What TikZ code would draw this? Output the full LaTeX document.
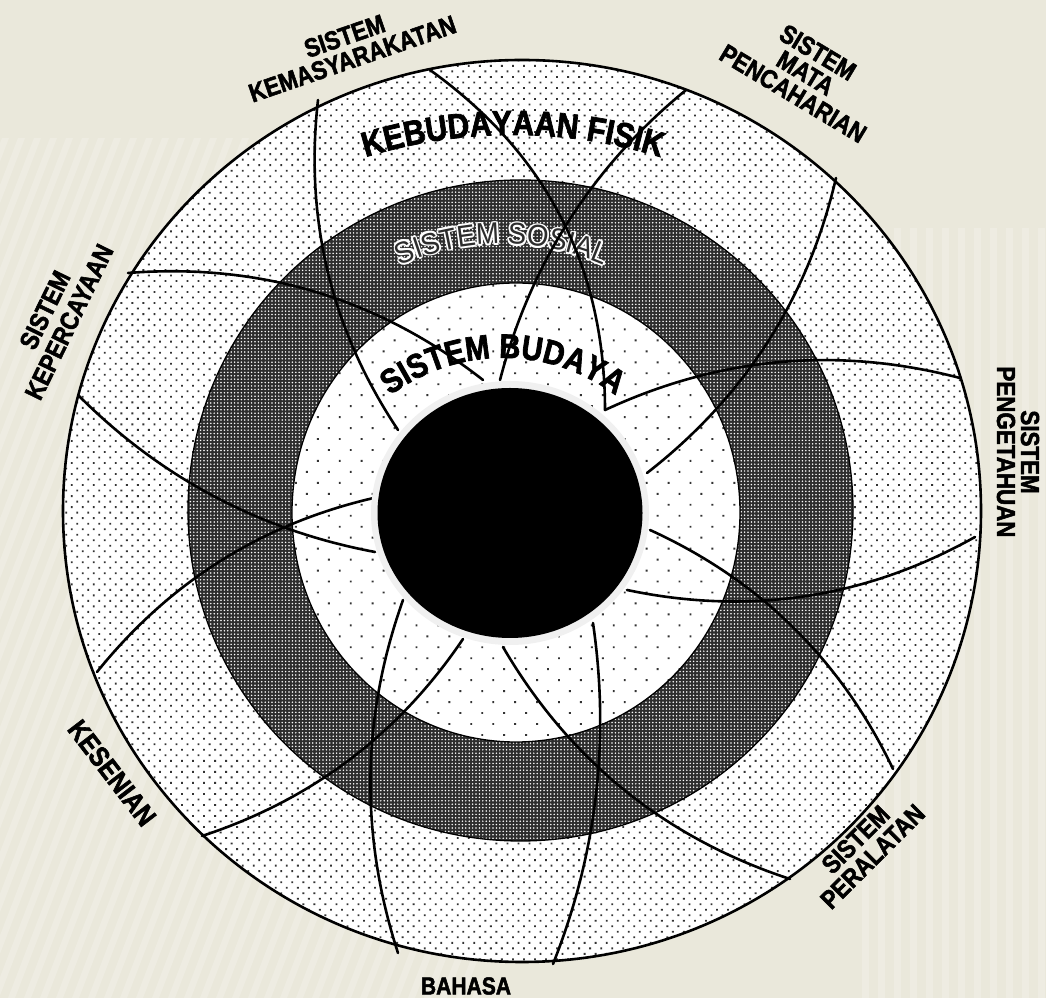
\documentclass[tikz,border=0pt]{standalone}
\usepackage{fontspec}
\setmainfont{Liberation Sans}
\newfontfamily\heavyfont[FakeStretch=0.86,FakeBold=2]{Liberation Sans Bold}
\newfontfamily\semifont[FakeStretch=0.92]{Liberation Sans}
\usetikzlibrary{patterns.meta,decorations.text,calc}
\definecolor{bg}{RGB}{234,232,219}
\definecolor{ringdark}{RGB}{45,45,45}
\newcommand\fontkeb{\heavyfont\fontsize{35}{35}\selectfont}
\newcommand\fontsos{\semifont\fontsize{30}{30}\selectfont}
\newcommand\fontbud{\heavyfont\fontsize{34}{34}\selectfont}
\newcommand\spokecurve[3]{\draw[spoke] (#1) .. controls ($(#1)!0.6667!(#2)$) and ($(#3)!0.6667!(#2)$) .. (#3);}
\begin{document}
\begin{tikzpicture}[x=1pt,y=1pt,
  spoke/.style={line width=2.6pt, line cap=round},
  lab/.style={font=\heavyfont\fontsize{26}{24}\selectfont, align=center, inner sep=0pt},
  outerdots/.style={pattern={Dots[distance=7.8pt,angle=45,radius=1.3pt]}, pattern color=black!80},
  innerdots/.style={pattern={Dots[distance=15.5pt,angle=45,radius=1.35pt]}, pattern color=black!80},
  darkdots/.style={pattern={Dots[distance=3.4pt,radius=0.85pt]}, pattern color=white},
  stripe/.style={white, opacity=0.2},
]
\fill[bg] (0,0) rectangle (1046,998);
\useasboundingbox (0,0) rectangle (1046,998);
% background stripes
\begin{scope}
  \clip (860,0) rectangle (1046,770);
  \foreach \x in {862,878,...,1046} { \fill[stripe] (\x,0) rectangle ++(7,770); }
\end{scope}
\begin{scope}
  \clip (0,0) rectangle (480,860);
  \foreach \x in {-600,-584,...,480} { \fill[stripe] (\x,0) -- ++(7,0) -- ++(330,860) -- ++(-7,0) -- cycle; }
\end{scope}
\coordinate (co) at (522,487);
\coordinate (cd) at (520.5,487.5);
\coordinate (ci) at (516,485.5);
\coordinate (cb) at (510,485);
\coordinate (kc) at (513,363);
\coordinate (bc) at (503,452);
% outer ring
\fill[white] (co) ellipse [x radius=459pt, y radius=451pt];
\fill[outerdots] (co) ellipse [x radius=459pt, y radius=451pt];
% dark ring
\fill[ringdark] (cd) ellipse [x radius=332.5pt, y radius=330.5pt];
\fill[darkdots] (cd) ellipse [x radius=332.5pt, y radius=330.5pt];
\draw[line width=1.3pt] (cd) ellipse [x radius=332.5pt, y radius=330.5pt];
% inner ring
\fill[white] (ci) ellipse [x radius=224pt, y radius=229.5pt];
\fill[innerdots] (ci) ellipse [x radius=224pt, y radius=229.5pt];
\draw[line width=1.3pt] (ci) ellipse [x radius=224pt, y radius=229.5pt];
% curved texts
\path[decorate, decoration={text along path, text={|\fontkeb|KEBUDAYAAN FISIK}, text align=center}]
  ($(kc)+(125:500pt)$) arc[start angle=125, end angle=55, radius=500pt];
\foreach \dx/\dy in {1.8/0, -1.8/0, 0/1.8, 0/-1.8, 1.27/1.27, -1.27/1.27, 1.27/-1.27, -1.27/-1.27}{
  \path[decorate, decoration={text along path, text={|\fontsos|SISTEM SOSIAL}, text align=center, text color=white}]
    (307.43+\dx, 663.27+\dy) arc[start angle=140, end angle=40, radius=254pt];
}
\path[decorate, decoration={text along path, text={|\fontsos|SISTEM SOSIAL}, text align=center, text color=ringdark}]
  (307.43, 663.27) arc[start angle=140, end angle=40, radius=254pt];
\path[decorate, decoration={text along path, text={|\fontbud|SISTEM BUDAYA}, text align=center}]
  ($(bc)+(150:188pt)$) arc[start angle=150, end angle=30, radius=188pt];
% spoke coordinates
\coordinate (sA0) at (318,898); \coordinate (sAq) at (297.8,718.4); \coordinate (sA1) at (398,568);
\coordinate (sB0) at (430,928); \coordinate (sBq) at (604.7,802.8); \coordinate (sB1) at (605,588);
\coordinate (sC0) at (686,908); \coordinate (sCq) at (545.8,793.2); \coordinate (sC1) at (500,618);
\coordinate (sD0) at (836,820); \coordinate (sDq) at (793.7,639.1); \coordinate (sD1) at (647,525);
\coordinate (sE0) at (960,620); \coordinate (sEq) at (776.7,667.8); \coordinate (sE1) at (605,588);
\coordinate (sF0) at (893,229); \coordinate (sFq) at (814.9,392.7); \coordinate (sF1) at (650,468);
\coordinate (sG0) at (78,603);  \coordinate (sGq) at (202.3,478.5); \coordinate (sG1) at (375,446);
\coordinate (sH0) at (97,326);  \coordinate (sHq) at (206.9,462.7); \coordinate (sH1) at (378,501);
\coordinate (sI0) at (398,45);  \coordinate (sIq) at (340.5,222.3); \coordinate (sI1) at (403,398);
\coordinate (sJ0) at (202,162); \coordinate (sJq) at (366.3,215.9); \coordinate (sJ1) at (463,359);
\coordinate (sK0) at (790,119); \coordinate (sKq) at (602.5,180.6); \coordinate (sK1) at (503,351);
\coordinate (sL0) at (553,34);  \coordinate (sLq) at (618.6,199.1); \coordinate (sL1) at (593,375);
\coordinate (sM0) at (975,461); \coordinate (sMq) at (811,369.3);   \coordinate (sM1) at (627,408);
\coordinate (sN0) at (128,725); \coordinate (sNq) at (326.3,740.5); \coordinate (sN1) at (483,618);
\foreach \s in {A,B,C,D,E,F,G,H,I,J,K,L,M,N}{
  \spokecurve{s\s0}{s\s q}{s\s1}
}
% outer circle outline
\draw[line width=2.6pt] (co) ellipse [x radius=459pt, y radius=451pt];
% core
\fill[gray!12] (cb) ellipse [x radius=139pt, y radius=132pt];
\fill[black] (cb) ellipse [x radius=132.5pt, y radius=125pt];
% outer labels
\node[lab, rotate=19] (kem) at (348.5,950.5) {SISTEM\\KEMASYARAKATAN};
\node[lab, rotate=-31] (mata) at (805.5,925) {SISTEM\\MATA\\PENCAHARIAN};
\node[lab, rotate=-90] (peng) at (1018,546) {SISTEM\\PENGETAHUAN};
\node[lab, rotate=45] (peral) at (864,150) {SISTEM\\PERALATAN};
\node[lab, font=\heavyfont\fontsize{24.5}{24}\selectfont] (bahasa) at (466,12) {BAHASA};
\node[lab, rotate=-52.5, font=\heavyfont\fontsize{28}{24}\selectfont] (kesenian) at (112,225) {KESENIAN};
\node[lab, rotate=64, font=\heavyfont\fontsize{26}{27}\selectfont] (keper) at (57,682) {SISTEM\\KEPERCAYAAN};
\end{tikzpicture}
\end{document}
